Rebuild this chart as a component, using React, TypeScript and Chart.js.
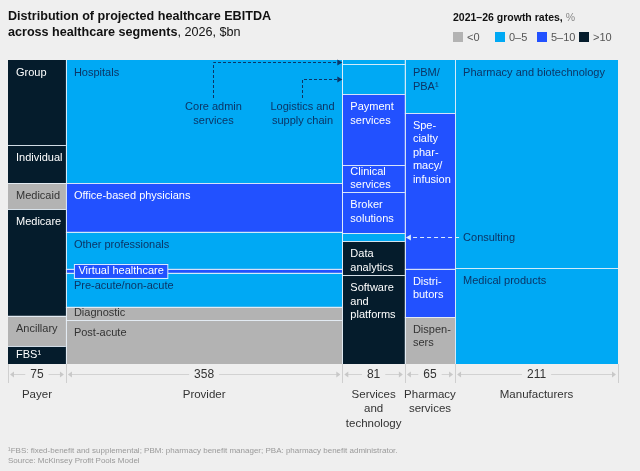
import React, { useEffect, useRef } from "react";
import { Chart, registerables } from "chart.js";

Chart.register(...registerables);

// ---------- data ----------
const columnNames = ["Payer", "Provider", "Services\nand\ntechnology", "Pharmacy\nservices", "Manufacturers"];
const columnValues = [75, 358, 81, 65, 211];

const payerLabels = ["Group", "Individual", "Medicaid", "Medicare", "Ancillary", "FBS¹"];
const payerShares = [28, 12.5, 8.6, 35, 9.9, 6];
const payerGrowth = [">10", ">10", "<0", ">10", "<0", ">10"];

const providerLabels = ["Hospitals", "Office-based physicians", "Other professionals", "Virtual healthcare", "Pre-acute/non-acute", "Diagnostic", "Post-acute"];
const providerShares = [40.5, 16, 12.2, 1.3, 11.2, 4.3, 14.5];
const providerGrowth = ["0–5", "5–10", "0–5", "5–10", "0–5", "<0", "<0"];

const servicesLabels = ["Core admin services", "Logistics and supply chain", "Payment services", "Clinical services", "Broker solutions", "Consulting", "Data analytics", "Software and platforms"];
const servicesShares = [1.3, 9.9, 23.4, 8.9, 13.5, 2.6, 11.2, 29.2];
const servicesGrowth = ["0–5", "0–5", "5–10", "5–10", "5–10", "0–5", ">10", ">10"];

const pharmacyLabels = ["PBM/PBA¹", "Specialty pharmacy/infusion", "Distributors", "Dispensers"];
const pharmacyShares = [17.4, 51.3, 15.8, 15.5];
const pharmacyGrowth = ["0–5", "5–10", "5–10", "<0"];

const manufacturerLabels = ["Pharmacy and biotechnology", "Medical products"];
const manufacturerShares = [68.4, 31.6];
const manufacturerGrowth = ["0–5", "0–5"];

const growthClasses = ["<0", "0–5", "5–10", ">10"];
const growthColors = ["#b3b3b3", "#00a9f4", "#2251ff", "#051c2c"];

// ---------- derived ----------
const segLabels = [payerLabels, providerLabels, servicesLabels, pharmacyLabels, manufacturerLabels];
const segShares = [payerShares, providerShares, servicesShares, pharmacyShares, manufacturerShares];
const segGrowth = [payerGrowth, providerGrowth, servicesGrowth, pharmacyGrowth, manufacturerGrowth];

type Col = { name: string; value: number; start: number; labels: string[]; shares: number[]; growth: string[] };
const columns: Col[] = (() => {
  let s = 0;
  return columnNames.map((name, i) => {
    const c = { name, value: columnValues[i], start: s, labels: segLabels[i], shares: segShares[i], growth: segGrowth[i] };
    s += columnValues[i];
    return c;
  });
})();
const total = columnValues.reduce((a, b) => a + b, 0);

const colorOf = (g: string) => growthColors[growthClasses.indexOf(g)];
const textColorOf = (g: string) => (g === ">10" || g === "5–10" ? "#ffffff" : g === "0–5" ? "#0b3566" : "#333333");

const cellText: Record<string, string> = {
  "Payment services": "Payment\nservices",
  "Clinical services": "Clinical\nservices",
  "Broker solutions": "Broker\nsolutions",
  "Data analytics": "Data\nanalytics",
  "Software and platforms": "Software\nand\nplatforms",
  "PBM/PBA¹": "PBM/\nPBA¹",
  "Specialty pharmacy/infusion": "Spe-\ncialty\nphar-\nmacy/\ninfusion",
  "Distributors": "Distri-\nbutors",
  "Dispensers": "Dispen-\nsers",
};
const calloutNames = ["Core admin services", "Logistics and supply chain", "Consulting"];

const FONT = '"Liberation Sans", Arial, sans-serif';

function segBounds(col: Col, i: number) {
  let cum = 0;
  for (let k = 0; k < i; k++) cum += col.shares[k];
  return { top: 100 - cum, bottom: 100 - cum - col.shares[i] };
}

function arrowHead(ctx: CanvasRenderingContext2D, x: number, y: number, dir: number, color: string, size = 5) {
  ctx.save();
  ctx.fillStyle = color;
  ctx.beginPath();
  ctx.moveTo(x, y);
  ctx.lineTo(x - dir * size, y - 3);
  ctx.lineTo(x - dir * size, y + 3);
  ctx.closePath();
  ctx.fill();
  ctx.restore();
}

const mekkoPlugin = {
  id: "mekko",
  afterDatasetsDraw(chart: any) {
    const ctx: CanvasRenderingContext2D = chart.ctx;
    const xs = chart.scales.x;
    const ys = chart.scales.y;
    const area = chart.chartArea;
    ctx.save();

    // separators
    ctx.strokeStyle = "rgba(232,241,250,0.9)";
    ctx.lineWidth = 1;
    columns.forEach((col, ci) => {
      const x0 = xs.getPixelForValue(col.start);
      const x1 = xs.getPixelForValue(col.start + col.value);
      col.shares.forEach((_, i) => {
        if (i === 0) return;
        const { top } = segBounds(col, i);
        const y = Math.round(ys.getPixelForValue(top)) + 0.5;
        ctx.beginPath();
        ctx.moveTo(x0, y);
        ctx.lineTo(x1, y);
        ctx.stroke();
      });
      if (ci > 0) {
        const x = Math.round(x0) + 0.5;
        ctx.beginPath();
        ctx.moveTo(x, area.top);
        ctx.lineTo(x, area.bottom);
        ctx.stroke();
      }
    });

    // cell labels
    ctx.font = `11px ${FONT}`;
    ctx.textBaseline = "middle";
    ctx.textAlign = "left";
    const lh = 13.5;
    columns.forEach((col) => {
      const x0 = xs.getPixelForValue(col.start);
      col.labels.forEach((name, i) => {
        if (calloutNames.includes(name)) return;
        const { top, bottom } = segBounds(col, i);
        const yt = ys.getPixelForValue(top);
        const yb = ys.getPixelForValue(bottom);
        const h = yb - yt;
        const lines = (cellText[name] ?? name).split("\n");
        if (name === "Virtual healthcare") {
          const w = ctx.measureText(name).width;
          const cy = (yt + yb) / 2;
          ctx.fillStyle = colorOf(col.growth[i]);
          ctx.fillRect(x0 + 8.5, cy - 7, w + 8, 14);
          ctx.strokeStyle = "#d8e8ff";
          ctx.strokeRect(x0 + 8.5, Math.round(cy - 7) + 0.5, w + 8, 14);
          ctx.fillStyle = "#ffffff";
          ctx.fillText(name, x0 + 12.5, cy + 0.5);
          return;
        }
        let y1: number;
        if (h < 30) y1 = (yt + yb) / 2 - ((lines.length - 1) * lh) / 2;
        else y1 = yt + 13;
        ctx.fillStyle = textColorOf(col.growth[i]);
        lines.forEach((ln, k) => ctx.fillText(ln, x0 + 8, y1 + k * lh));
      });
    });

    // callouts from provider column to services column
    const prov = columns[1];
    const serv = columns[2];
    const pharm = columns[3];
    const manu = columns[4];
    const pxa = xs.getPixelForValue(prov.start);
    const pxb = xs.getPixelForValue(prov.start + prov.value);
    const servStart = xs.getPixelForValue(serv.start);
    const dark = "#0b3566";
    const callouts = [
      { name: "Core admin services", text: "Core admin\nservices", frac: 0.533 },
      { name: "Logistics and supply chain", text: "Logistics and\nsupply chain", frac: 0.855 },
    ];
    ctx.textAlign = "center";
    callouts.forEach((c) => {
      const i = serv.labels.indexOf(c.name);
      const { top, bottom } = segBounds(serv, i);
      const my = Math.round(ys.getPixelForValue((top + bottom) / 2)) + 0.5;
      const cx = Math.round(pxa + c.frac * (pxb - pxa)) + 0.5;
      ctx.fillStyle = dark;
      c.text.split("\n").forEach((ln, k) => ctx.fillText(ln, cx, area.top + 47 + k * lh));
      ctx.strokeStyle = dark;
      ctx.setLineDash([3, 2]);
      ctx.beginPath();
      ctx.moveTo(cx, area.top + 38);
      ctx.lineTo(cx, my);
      ctx.lineTo(servStart - 5, my);
      ctx.stroke();
      ctx.setLineDash([]);
      arrowHead(ctx, servStart, my, 1, dark);
    });

    // consulting callout
    {
      const i = serv.labels.indexOf("Consulting");
      const { top, bottom } = segBounds(serv, i);
      const my = Math.round(ys.getPixelForValue((top + bottom) / 2)) + 0.5;
      const ms = xs.getPixelForValue(manu.start);
      const ps = xs.getPixelForValue(pharm.start);
      ctx.textAlign = "left";
      ctx.fillStyle = dark;
      ctx.fillText("Consulting", ms + 8, my);
      ctx.strokeStyle = "#dcecff";
      ctx.setLineDash([4, 3]);
      ctx.beginPath();
      ctx.moveTo(ms + 4, my);
      ctx.lineTo(ps + 5, my);
      ctx.stroke();
      ctx.setLineDash([]);
      arrowHead(ctx, ps + 1, my, -1, "#dcecff");
    }

    // bottom axis: values and names
    const ay = area.bottom + 10.5;
    ctx.strokeStyle = "#cfcfcf";
    ctx.fillStyle = "#cfcfcf";
    ctx.lineWidth = 1;
    const bounds = columns.map((c) => xs.getPixelForValue(c.start)).concat([xs.getPixelForValue(total)]);
    bounds.forEach((b) => {
      const x = Math.round(b) + 0.5;
      ctx.beginPath();
      ctx.moveTo(x, area.bottom);
      ctx.lineTo(x, area.bottom + 19);
      ctx.stroke();
    });
    ctx.font = `12px ${FONT}`;
    columns.forEach((col) => {
      const x0 = xs.getPixelForValue(col.start);
      const x1 = xs.getPixelForValue(col.start + col.value);
      const cx = (x0 + x1) / 2;
      const label = String(col.value);
      const w = ctx.measureText(label).width;
      ctx.strokeStyle = "#d2d2d2";
      ctx.beginPath();
      ctx.moveTo(x0 + 3, ay);
      ctx.lineTo(cx - w / 2 - 5, ay);
      ctx.moveTo(cx + w / 2 + 5, ay);
      ctx.lineTo(x1 - 3, ay);
      ctx.stroke();
      arrowHead(ctx, x0 + 2, ay, -1, "#c8c8c8", 4);
      arrowHead(ctx, x1 - 2, ay, 1, "#c8c8c8", 4);
      ctx.fillStyle = "#333333";
      ctx.textAlign = "center";
      ctx.font = `12px ${FONT}`;
      ctx.fillText(label, cx, ay);
      ctx.font = `11.5px ${FONT}`;
      col.name.split("\n").forEach((ln, k) => ctx.fillText(ln, cx, area.bottom + 31 + k * 14.2));
      ctx.font = `12px ${FONT}`;
    });

    ctx.restore();
  },
};

export default function App() {
  const ref = useRef<HTMLCanvasElement>(null);
  useEffect(() => {
    if (!ref.current) return;
    const datasets: any[] = [];
    columns.forEach((col) => {
      col.shares.forEach((_, i) => {
        const { top, bottom } = segBounds(col, i);
        datasets.push({
          label: col.labels[i],
          data: [
            { x: col.start, y: top },
            { x: col.start + col.value, y: top },
          ],
          fill: { value: bottom },
          backgroundColor: colorOf(col.growth[i]),
          borderColor: "rgba(0,0,0,0)",
          borderWidth: 0,
          pointRadius: 0,
          tension: 0,
        });
      });
    });
    const chart = new Chart(ref.current, {
      type: "line",
      data: { datasets },
      options: {
        animation: false,
        responsive: false,
        devicePixelRatio: 1,
        events: [],
        layout: { padding: { left: 8, right: 22, top: 60, bottom: 107 } },
        scales: {
          x: { type: "linear", min: 0, max: total, display: false },
          y: { type: "linear", min: 0, max: 100, display: false },
        },
        plugins: { legend: { display: false }, tooltip: { enabled: false } },
      },
      plugins: [mekkoPlugin],
    });
    return () => chart.destroy();
  }, []);

  const legendItems = growthClasses.map((g, i) => ({ g, color: growthColors[i], left: 453 + i * 42 }));

  return (
    <div style={{ position: "fixed", left: 0, top: 0, width: 640, height: 471, background: "#efefef", fontFamily: FONT, overflow: "hidden" }}>
      <canvas ref={ref} width={640} height={471} style={{ position: "absolute", left: 0, top: 0, display: "block" }} />
      <div style={{ position: "absolute", left: 8, top: 9, fontSize: 12.6, lineHeight: "15.5px", color: "#111" }}>
        <div style={{ fontWeight: "bold" }}>Distribution of projected healthcare EBITDA</div>
        <div>
          <span style={{ fontWeight: "bold" }}>across healthcare segments</span>, 2026, $bn
        </div>
      </div>
      <div style={{ position: "absolute", left: 453, top: 11, fontSize: 10.5, color: "#111", whiteSpace: "nowrap" }}>
        <span style={{ fontWeight: "bold" }}>2021–26 growth rates,</span> <span style={{ color: "#888" }}>%</span>
      </div>
      {legendItems.map((it) => (
        <div key={it.g} style={{ position: "absolute", left: it.left, top: 31, height: 12, display: "flex", alignItems: "center", fontSize: 11, color: "#555", whiteSpace: "nowrap" }}>
          <span style={{ display: "inline-block", width: 10, height: 10, background: it.color, marginRight: 4 }} />
          {it.g}
        </div>
      ))}
      <div style={{ position: "absolute", left: 8, top: 446, fontSize: 8, lineHeight: "10px", color: "#999", whiteSpace: "nowrap" }}>
        <div>¹FBS: fixed-benefit and supplemental; PBM: pharmacy benefit manager; PBA: pharmacy benefit administrator.</div>
        <div>Source: McKinsey Profit Pools Model</div>
      </div>
    </div>
  );
}
